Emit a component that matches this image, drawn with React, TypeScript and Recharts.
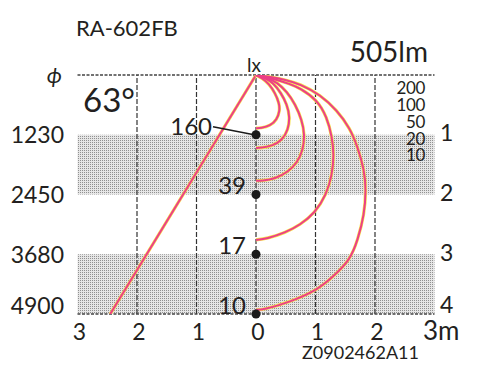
import React from "react";
import {
  ComposedChart,
  Line,
  XAxis,
  YAxis,
  ReferenceLine,
  ReferenceArea,
  ReferenceDot,
} from "recharts";

const W = 472;
const H = 372;
const FONT = "Lato, 'Noto Sans', sans-serif";
const INK = "#231f20";
const PINK = "#ec3f86";
const YELLOW = "#f5e04a";

// horizontal distance from axis (m), shown as absolute values
const distTicks = [-3, -2, -1, 0, 1, 2, 3];
const distLabels = ["3", "2", "1", "0", "1", "2", "3m"];
const gridXs = [-2, -1, 0, 1, 2];

// distance below the lamp (m) / beam diameter (mm)
const depthTicks = [0, 1, 2, 3, 4];
const diameterLabels = ["ϕ", "1230", "2450", "3680", "4900"];
const depthLabels = ["", "1", "2", "3", "4"];
const shadedBands = [
  [1, 2],
  [3, 4],
];

// centre illuminance (lx) at each depth
const centreDepths = [1, 2, 3, 4];
const centreLux = [160, 39, 17, 10];

// isolux contour levels (lx)
const luxLevels = [200, 100, 50, 20, 10];

const lux200 = [
  { x: 0, y: 0 },
  { x: 0.1, y: 0.05 },
  { x: 0.22, y: 0.15 },
  { x: 0.32, y: 0.3 },
  { x: 0.39, y: 0.47 },
  { x: 0.4, y: 0.6 },
  { x: 0.35, y: 0.75 },
  { x: 0.24, y: 0.85 },
  { x: 0.08, y: 0.89 },
  { x: 0, y: 0.89 },
];

const lux100 = [
  { x: 0, y: 0 },
  { x: 0.15, y: 0.05 },
  { x: 0.29, y: 0.13 },
  { x: 0.42, y: 0.3 },
  { x: 0.52, y: 0.49 },
  { x: 0.57, y: 0.7 },
  { x: 0.54, y: 0.92 },
  { x: 0.44, y: 1.09 },
  { x: 0.27, y: 1.19 },
  { x: 0.08, y: 1.22 },
  { x: 0, y: 1.22 },
];

const lux50 = [
  { x: 0, y: 0 },
  { x: 0.2, y: 0.05 },
  { x: 0.35, y: 0.12 },
  { x: 0.52, y: 0.28 },
  { x: 0.66, y: 0.49 },
  { x: 0.77, y: 0.75 },
  { x: 0.82, y: 1.0 },
  { x: 0.79, y: 1.26 },
  { x: 0.69, y: 1.47 },
  { x: 0.54, y: 1.62 },
  { x: 0.32, y: 1.74 },
  { x: 0.1, y: 1.77 },
  { x: 0, y: 1.77 },
];

const lux20 = [
  { x: 0, y: 0 },
  { x: 0.32, y: 0.07 },
  { x: 0.57, y: 0.15 },
  { x: 0.74, y: 0.22 },
  { x: 1.03, y: 0.42 },
  { x: 1.19, y: 0.7 },
  { x: 1.28, y: 1.04 },
  { x: 1.31, y: 1.34 },
  { x: 1.28, y: 1.67 },
  { x: 1.18, y: 2.01 },
  { x: 0.99, y: 2.31 },
  { x: 0.74, y: 2.51 },
  { x: 0.49, y: 2.64 },
  { x: 0.18, y: 2.74 },
  { x: 0, y: 2.76 },
];

const lux10 = [
  { x: 0, y: 0 },
  { x: 0.24, y: 0.03 },
  { x: 0.49, y: 0.08 },
  { x: 0.74, y: 0.15 },
  { x: 1.08, y: 0.33 },
  { x: 1.36, y: 0.59 },
  { x: 1.58, y: 0.89 },
  { x: 1.71, y: 1.21 },
  { x: 1.82, y: 1.59 },
  { x: 1.85, y: 1.92 },
  { x: 1.82, y: 2.34 },
  { x: 1.71, y: 2.76 },
  { x: 1.58, y: 3.1 },
  { x: 1.29, y: 3.38 },
  { x: 1.03, y: 3.6 },
  { x: 0.57, y: 3.8 },
  { x: 0.12, y: 3.93 },
  { x: 0, y: 3.93 },
];

const contours = [lux200, lux100, lux50, lux20, lux10];

// edge of the 63° beam
const beamEdge = [
  { x: 0, y: 0 },
  { x: -2.45, y: 4 },
];

const LeftTick = (p: any) => {
  const i = depthTicks.indexOf(p.payload.value);
  const phi = i === 0;
  const shift = i === depthTicks.length - 1 ? -8 : 0;
  return (
    <text
      x={p.x - (phi ? 15.5 : 13.5)}
      y={p.y + shift}
      dy="0.36em"
      textAnchor="end"
      fontFamily={FONT}
      fontSize={phi ? 22 : 23}
      fontStyle={phi ? "italic" : "normal"}
      fill={INK}
    >
      {diameterLabels[i]}
    </text>
  );
};

const RightTick = (p: any) => {
  const i = depthTicks.indexOf(p.payload.value);
  const shift = i === depthTicks.length - 1 ? -9 : -2;
  return (
    <text
      x={p.x + 5.5}
      y={p.y + shift}
      dy="0.36em"
      textAnchor="start"
      fontFamily={FONT}
      fontSize={23}
      fill={INK}
    >
      {depthLabels[i]}
    </text>
  );
};

const BottomTick = (p: any) => {
  const i = distTicks.indexOf(p.payload.value);
  const last = i === distTicks.length - 1;
  return (
    <text
      x={last ? p.x - 11.5 : p.x + 2}
      y={p.y + (last ? 17 : 18)}
      dy="0.36em"
      textAnchor={last ? "start" : "middle"}
      fontFamily={FONT}
      fontSize={last ? 26 : 23}
      fill={INK}
    >
      {distLabels[i]}
    </text>
  );
};

const centreMark = (lux: number, leader: boolean) => (p: any) => {
  const { cx, cy } = p;
  return (
    <g>
      <circle cx={cx} cy={cy} r={4.5} fill="#1a1a1a" />
      {leader && (
        <line x1={cx - 43} y1={cy - 8} x2={cx - 2} y2={cy} stroke="#1a1a1a" strokeWidth={1.4} />
      )}
      <text
        x={leader ? cx - 44 : cx - 10}
        y={leader ? cy - 8 : cy - 9}
        dy="0.36em"
        textAnchor="end"
        fontFamily={FONT}
        fontSize={24}
        fill={INK}
      >
        {lux}
      </text>
    </g>
  );
};

export default function App() {
  return (
    <div style={{ position: "relative", width: W, height: H }}>
      <ComposedChart
        width={W}
        height={H}
        margin={{ top: 67, right: 5.5, bottom: 36, left: 9.5 }}
      >
        <defs>
          <pattern id="dots" width="2" height="2" patternUnits="userSpaceOnUse">
            <rect width="2" height="2" fill="#e6e6e6" />
            <rect width="1" height="1" fill="#909090" />
          </pattern>
        </defs>

        <XAxis
          dataKey="x"
          type="number"
          domain={[-3, 3]}
          ticks={distTicks}
          axisLine={false}
          tickLine={false}
          tickSize={0}
          tickMargin={0}
          height={30}
          tick={<BottomTick />}
          allowDataOverflow
        />
        <YAxis
          type="number"
          domain={[0, 4]}
          ticks={depthTicks}
          reversed
          axisLine={false}
          tickLine={false}
          tickSize={0}
          tickMargin={0}
          width={60}
          tick={<LeftTick />}
          allowDataOverflow
        />
        <YAxis
          yAxisId="r"
          orientation="right"
          type="number"
          domain={[0, 4]}
          ticks={depthTicks}
          reversed
          axisLine={false}
          tickLine={false}
          tickSize={0}
          tickMargin={0}
          width={40}
          tick={<RightTick />}
          allowDataOverflow
        />

        {shadedBands.map(([a, b]) => (
          <ReferenceArea
            key={a}
            x1={-3}
            x2={3}
            y1={a}
            y2={b}
            fill="url(#dots)"
            fillOpacity={1}
            stroke="none"
          />
        ))}

        {gridXs.map((gx) => (
          <ReferenceLine key={gx} x={gx} stroke="#333" strokeWidth={1.2} strokeDasharray="5 2" />
        ))}
        <ReferenceLine y={0} stroke="#444" strokeWidth={1.4} strokeDasharray="3 1.5" />
        <ReferenceLine y={4} stroke="#444" strokeWidth={1.4} strokeDasharray="3 1.5" />

        <Line
          data={beamEdge}
          dataKey="y"
          type="linear"
          stroke={YELLOW}
          strokeWidth={3.2}
          dot={false}
          activeDot={false}
          isAnimationActive={false}
        />
        <Line
          data={beamEdge}
          dataKey="y"
          type="linear"
          stroke={PINK}
          strokeWidth={2}
          dot={false}
          activeDot={false}
          isAnimationActive={false}
        />

        {contours.map((c, i) => (
          <Line
            key={"y" + i}
            data={c}
            dataKey="y"
            type="basis"
            stroke={YELLOW}
            strokeWidth={3.2}
            dot={false}
            activeDot={false}
            isAnimationActive={false}
          />
        ))}
        {contours.map((c, i) => (
          <Line
            key={"p" + i}
            data={c}
            dataKey="y"
            type="basis"
            stroke={PINK}
            strokeWidth={2}
            dot={false}
            activeDot={false}
            isAnimationActive={false}
          />
        ))}

        {centreDepths.map((d, i) => (
          <ReferenceDot
            key={d}
            x={0}
            y={d}
            r={4.5}
            shape={centreMark(centreLux[i], i === 0)}
          />
        ))}
      </ComposedChart>

      <svg
        width={W}
        height={H}
        style={{ position: "absolute", left: 0, top: 0, pointerEvents: "none" }}
      >
        <text x={68} y={28} fontFamily={FONT} fontSize={22} fill={INK}>
          RA-602FB
        </text>
        <text x={75} y={104} fontFamily={FONT} fontSize={33} fill={INK}>
          63°
        </text>
        <text x={246} y={64} textAnchor="middle" fontFamily={FONT} fontSize={19} fill={INK}>
          lx
        </text>
        <text x={420} y={54} textAnchor="end" fontFamily={FONT} fontSize={28} fill={INK}>
          505lm
        </text>
        {luxLevels.map((lv, i) => (
          <text
            key={lv}
            x={417}
            y={80 + i * 16.8}
            dy="0.36em"
            textAnchor="end"
            fontFamily={FONT}
            fontSize={17}
            letterSpacing={-0.4}
            fill={INK}
          >
            {lv}
          </text>
        ))}
        <text x={294} y={351} fontFamily={FONT} fontSize={18} fill={INK}>
          Z0902462A11
        </text>
      </svg>
    </div>
  );
}
